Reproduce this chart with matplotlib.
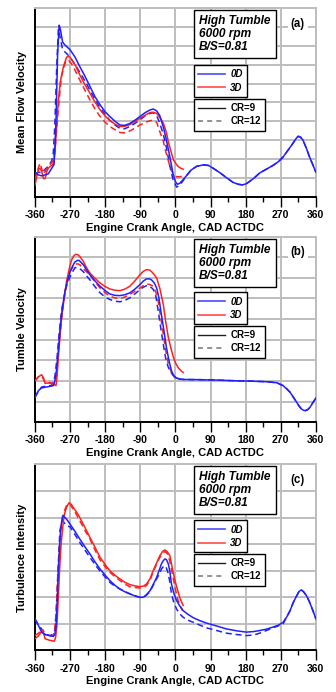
import matplotlib
matplotlib.use('Agg')
import matplotlib.pyplot as plt
from matplotlib.lines import Line2D
from matplotlib.ticker import MultipleLocator

plt.rcParams['font.family'] = ['Liberation Sans', 'DejaVu Sans']
plt.rcParams['font.weight'] = 'bold'
plt.rcParams['axes.unicode_minus'] = False

BLUE = '#2020ff'
RED = '#ff2020'
GRID = '#bdbdbd'

# ---- (a) mean flow velocity ----
mfv_0d_cr9_cad = [-360, -351, -343, -334, -326, -317, -311, -306, -302, -298, -295, -289, -283, -270,
                  -257, -245, -232, -219, -206, -193, -180, -168, -155, -142, -130, -117, -104, -91,
                  -78, -65, -57, -48, -40, -31, -23, -14, -6, 0, 5, 11, 20, 28, 40, 54, 71, 85, 97,
                  115, 131, 148, 161, 172, 182, 200, 216, 233, 250, 264, 276, 290, 302, 310, 315,
                  321, 327, 335, 344, 352, 360]
mfv_0d_cr9 = [1.3, 1.15, 1.1, 1.15, 1.2, 1.5, 1.7, 4.0, 7.5, 9.1, 8.9, 8.2, 8.05, 7.8,
              7.4, 6.9, 6.4, 5.85, 5.3, 4.87, 4.5, 4.25, 4.0, 3.8, 3.78, 3.88, 4.05, 4.25,
              4.45, 4.6, 4.65, 4.55, 4.3, 3.7, 3.0, 2.1, 1.2, 0.8, 0.65, 0.7, 0.9, 1.1, 1.4, 1.6,
              1.68, 1.65, 1.5, 1.25, 1.0, 0.75, 0.65, 0.62, 0.68, 0.95, 1.25, 1.45, 1.65, 1.85,
              2.1, 2.5, 2.85, 3.1, 3.2, 3.15, 3.0, 2.6, 2.1, 1.7, 1.3]

mfv_0d_cr12_cad = [-360, -351, -343, -334, -326, -317, -313, -309, -304, -300, -296, -289, -279, -270,
                   -257, -245, -232, -219, -206, -193, -180, -168, -155, -142, -130, -117, -104, -91,
                   -78, -65, -57, -48, -40, -31, -23, -14, -6, 3, 11, 20, 28, 40, 54, 71, 85, 97,
                   115, 131, 148, 161, 172, 182, 200, 216, 233, 250, 264, 276, 290, 302, 310, 315,
                   321, 327, 335, 344, 352, 360]
mfv_0d_cr12 = [1.2, 1.3, 1.25, 1.45, 1.6, 1.9, 2.3, 3.8, 7.0, 8.9, 8.5, 7.8, 7.6, 7.4,
               7.0, 6.6, 6.15, 5.65, 5.15, 4.72, 4.35, 4.05, 3.8, 3.62, 3.6, 3.72, 3.88, 4.07,
               4.28, 4.42, 4.45, 4.3, 3.9, 3.3, 2.6, 1.6, 0.9, 0.5, 0.6, 0.85, 1.1, 1.4, 1.6,
               1.68, 1.65, 1.5, 1.25, 1.0, 0.75, 0.65, 0.62, 0.68, 0.95, 1.25, 1.45, 1.65, 1.85,
               2.1, 2.5, 2.85, 3.1, 3.2, 3.15, 3.0, 2.6, 2.1, 1.7, 1.3]

mfv_3d_cr9_cad = [-360, -355, -351, -347, -343, -338, -334, -330, -326, -321, -317, -313, -309, -305,
                  -300, -295, -287, -279, -274, -270, -257, -245, -232, -219, -206, -193, -180, -168,
                  -155, -142, -130, -117, -104, -91, -78, -65, -57, -48, -40, -31, -23, -18, -10,
                  -5, 3, 7, 14, 20]
mfv_3d_cr9 = [0.6, 1.1, 1.45, 1.5, 1.35, 0.95, 0.95, 1.3, 1.5, 1.6, 1.65, 1.75, 2.3, 3.5,
              5.1, 6.1, 6.9, 7.4, 7.45, 7.4, 7.0, 6.46, 5.95, 5.49, 5.02, 4.6, 4.28, 4.03,
              3.85, 3.72, 3.73, 3.82, 3.98, 4.16, 4.32, 4.46, 4.48, 4.42, 4.2, 3.9, 3.4, 2.9, 2.3,
              1.95, 1.7, 1.6, 1.5, 1.45]

mfv_3d_cr12_cad = [-360, -355, -347, -343, -338, -330, -321, -313, -309, -305, -300, -292, -284, -279,
                   -272, -266, -257, -245, -232, -219, -206, -193, -180, -168, -155, -142, -130, -117,
                   -104, -91, -78, -65, -57, -48, -40, -31, -26, -18, -14, -6, -1, 10, 20]
mfv_3d_cr12 = [0.9, 1.3, 1.77, 1.5, 1.2, 1.45, 1.7, 1.9, 2.4, 3.36, 4.7, 6.37, 7.0, 7.26,
               7.2, 7.05, 6.7, 6.19, 5.65, 5.13, 4.65, 4.25, 3.95, 3.72, 3.55, 3.4, 3.38, 3.48,
               3.63, 3.8, 3.93, 4.03, 4.05, 3.95, 3.45, 2.95, 2.48, 1.9, 1.6, 1.2, 1.06, 1.05, 1.08]

# ---- (b) tumble velocity ----
tv_0d_cr9_cad = [-360, -351, -343, -326, -313, -309, -305, -300, -296, -290, -283, -276, -270, -264,
                 -258, -251, -247, -236, -228, -219, -206, -193, -180, -168, -155, -142, -130, -117,
                 -104, -91, -82, -74, -66, -61, -54, -48, -42, -36, -29, -23, -16, -10, -4, 3, 11,
                 20, 63, 106, 149, 191, 234, 260, 276, 285, 294, 302, 311, 317, 323, 329, 334, 340,
                 345, 353, 360]
tv_0d_cr9 = [1.2, 1.53, 1.66, 1.72, 1.77, 2.0, 2.49, 3.5, 4.42, 5.5, 6.35, 6.9, 7.3, 7.55,
             7.76, 7.85, 7.85, 7.64, 7.4, 7.15, 6.85, 6.59, 6.38, 6.22, 6.15, 6.14, 6.18, 6.27,
             6.45, 6.67, 6.85, 6.95, 6.95, 6.9, 6.75, 6.51, 6.0, 5.23, 4.4, 3.62, 2.95, 2.49, 2.25,
             2.14, 2.09, 2.07, 2.06, 2.04, 2.01, 1.99, 1.96, 1.91, 1.77, 1.62, 1.45, 1.22, 0.96,
             0.78, 0.64, 0.57, 0.56, 0.62, 0.72, 0.96, 1.17]

tv_0d_cr12_cad = [-360, -351, -343, -330, -317, -309, -304, -298, -292, -283, -276, -270, -262, -257,
                  -247, -236, -228, -219, -206, -193, -180, -168, -155, -142, -130, -117, -104, -91,
                  -82, -74, -66, -57, -50, -44, -37, -31, -25, -18, -11, -5, 7, 20, 63, 106, 149,
                  191, 234, 260, 276, 285, 294, 302, 311, 317, 323, 329, 334, 340, 345, 353, 360]
tv_0d_cr12 = [1.2, 1.5, 1.7, 1.75, 1.78, 2.2, 3.0, 4.3, 5.4, 6.3, 6.8, 7.05, 7.35, 7.5,
              7.48, 7.3, 7.1, 6.9, 6.57, 6.27, 6.07, 5.95, 5.87, 5.84, 5.9, 6.03, 6.22, 6.43,
              6.55, 6.62, 6.6, 6.45, 6.1, 5.39, 4.5, 3.78, 3.1, 2.65, 2.4, 2.25, 2.09, 2.07, 2.06,
              2.04, 2.01, 1.99, 1.96, 1.91, 1.77, 1.62, 1.45, 1.22, 0.96, 0.78, 0.64, 0.57, 0.56,
              0.62, 0.72, 0.96, 1.17]

tv_3d_cr9_cad = [-360, -351, -343, -338, -334, -326, -321, -313, -306, -303, -300, -296, -292, -285,
                 -279, -272, -266, -260, -255, -250, -245, -236, -228, -219, -206, -193, -180, -168,
                 -155, -142, -130, -117, -104, -91, -82, -74, -66, -61, -54, -48, -40, -31, -25,
                 -18, -11, -5, 1, 7, 14, 20]
tv_3d_cr9 = [2.0, 2.2, 2.3, 2.15, 1.88, 1.9, 1.93, 1.85, 1.77, 2.3, 3.14, 4.1, 5.06, 6.0,
             6.83, 7.45, 7.88, 8.08, 8.15, 8.12, 8.04, 7.8, 7.5, 7.23, 6.98, 6.75, 6.58, 6.46,
             6.4, 6.38, 6.45, 6.59, 6.85, 7.15, 7.32, 7.4, 7.38, 7.3, 7.15, 6.99, 6.5, 5.71, 4.9,
             4.1, 3.55, 3.14, 2.85, 2.65, 2.5, 2.41]

tv_3d_cr12_cad = [-360, -351, -343, -334, -321, -313, -306, -303, -300, -296, -290, -283, -276, -270,
                  -262, -257, -250, -245, -236, -228, -219, -206, -193, -180, -168, -155, -142, -130,
                  -117, -104, -91, -82, -74, -66, -57, -50, -44, -37, -31, -25, -18, -11, -6, 0, 10,
                  20]
tv_3d_cr12 = [2.0, 2.2, 2.25, 1.93, 1.88, 1.85, 2.0, 2.65, 3.4, 4.26, 5.3, 6.35, 6.9, 7.3,
              7.55, 7.67, 7.68, 7.64, 7.45, 7.3, 7.15, 6.8, 6.51, 6.28, 6.11, 6.03, 6.0, 6.07,
              6.19, 6.35, 6.51, 6.62, 6.7, 6.68, 6.6, 6.3, 5.87, 5.0, 4.26, 3.5, 2.81, 2.45, 2.25,
              2.15, 2.1, 2.08]

# ---- (c) turbulence intensity ----
ti_0d_cr9_cad = [-360, -355, -351, -343, -334, -321, -313, -309, -306, -303, -300, -297, -294, -291,
                 -289, -286, -283, -277, -270, -257, -245, -232, -219, -206, -193, -180, -168, -155,
                 -142, -130, -117, -100, -91, -82, -74, -65, -57, -48, -40, -36, -31, -27, -23, -18,
                 -14, -10, -4, 3, 11, 20, 30, 46, 63, 80, 106, 131, 157, 182, 200, 216, 233, 250,
                 264, 276, 285, 294, 302, 311, 317, 323, 329, 336, 343, 349, 355, 360]
ti_0d_cr9 = [1.19, 1.05, 0.94, 0.69, 0.6, 0.55, 0.53, 0.6, 0.88, 1.8, 3.0, 3.9, 4.56, 4.9,
             5.06, 5.05, 5.0, 4.9, 4.75, 4.47, 4.19, 3.9, 3.63, 3.33, 3.06, 2.83, 2.63, 2.45,
             2.31, 2.21, 2.13, 2.03, 2.0, 2.0, 2.1, 2.25, 2.48, 2.75, 3.08, 3.25, 3.38, 3.44, 3.42,
             3.25, 2.95, 2.5, 2.15, 1.88, 1.68, 1.5, 1.38, 1.23, 1.12, 1.03, 0.92, 0.81, 0.74,
             0.69, 0.71, 0.75, 0.8, 0.88, 0.95, 1.06, 1.25, 1.5, 1.8, 2.06, 2.22, 2.28, 2.2,
             2.06, 1.85, 1.63, 1.4, 1.19]

ti_0d_cr12_cad = [-360, -351, -343, -330, -321, -313, -309, -305, -302, -299, -296, -292, -289, -285,
                  -279, -270, -257, -245, -232, -219, -206, -193, -180, -168, -155, -142, -117, -91,
                  -82, -74, -65, -48, -40, -36, -31, -27, -23, -18, -14, -10, -4, 3, 11, 20, 30, 46,
                  63, 80, 106, 131, 157, 182, 200, 216, 233, 250, 264, 276, 285, 294, 302, 311, 317,
                  323, 329, 336, 343, 349, 355, 360]
ti_0d_cr12 = [1.19, 0.95, 0.81, 0.6, 0.56, 0.62, 0.75, 1.6, 2.63, 3.6, 4.5, 4.8, 4.88, 4.8,
              4.69, 4.65, 4.35, 4.06, 3.78, 3.5, 3.23, 2.98, 2.76, 2.56, 2.42, 2.31, 2.13, 2.0,
              2.0, 2.08, 2.22, 2.7, 2.9, 3.06, 3.15, 3.19, 3.1, 2.88, 2.55, 2.13, 1.8, 1.56, 1.38,
              1.25, 1.15, 1.06, 0.95, 0.85, 0.75, 0.65, 0.6, 0.56, 0.58, 0.65, 0.75, 0.85, 0.93,
              1.0, 1.25, 1.5, 1.8, 2.06, 2.22, 2.28, 2.2, 2.06, 1.85, 1.63, 1.4, 1.19]

ti_3d_cr9_cad = [-360, -351, -347, -343, -340, -337, -334, -326, -321, -310, -307, -304, -300, -297,
                 -293, -287, -283, -279, -275, -272, -266, -262, -253, -245, -232, -219, -206, -193,
                 -180, -168, -155, -142, -130, -117, -104, -91, -82, -74, -65, -57, -48, -40, -33,
                 -27, -21, -14, -8, -1, 5, 11, 16, 20]
ti_3d_cr9 = [0.44, 0.55, 0.63, 0.7, 0.78, 0.6, 0.44, 0.4, 0.38, 0.35, 0.5, 0.88, 2.0, 3.0,
             4.0, 4.88, 5.2, 5.38, 5.5, 5.56, 5.48, 5.38, 5.2, 5.0, 4.63, 4.25, 3.88, 3.5,
             3.23, 3.0, 2.83, 2.69, 2.57, 2.48, 2.43, 2.4, 2.42, 2.5, 2.7, 3.0, 3.3, 3.56, 3.72,
             3.78, 3.72, 3.56, 3.1, 2.63, 2.3, 2.0, 1.82, 1.69]

ti_3d_cr12_cad = [-360, -351, -343, -338, -330, -321, -313, -309, -306, -303, -300, -296, -292, -287,
                  -283, -279, -275, -270, -262, -257, -245, -232, -219, -206, -193, -180, -168, -155,
                  -142, -130, -117, -104, -91, -82, -74, -65, -57, -48, -40, -33, -27, -21, -18,
                  -12, -6, 0, 7, 13, 18]
ti_3d_cr12 = [0.56, 0.65, 0.78, 0.65, 0.56, 0.56, 0.56, 0.8, 1.38, 2.3, 3.25, 4.1, 4.75, 5.1,
              5.31, 5.45, 5.53, 5.5, 5.31, 5.2, 4.88, 4.52, 4.19, 3.78, 3.4, 3.15, 2.94, 2.78,
              2.63, 2.5, 2.4, 2.37, 2.35, 2.38, 2.44, 2.65, 2.95, 3.25, 3.5, 3.66, 3.72, 3.65, 3.56,
              3.2, 2.75, 2.3, 1.88, 1.65, 1.5]

x_ticks = [-360, -270, -180, -90, 0, 90, 180, 270, 360]
case_text = 'High Tumble\n6000 rpm\nB/S=0.81'


def draw_panel(ax, curves, ymax, ylabel, tag):
    for cad, val, color, dashed in curves:
        if dashed:
            ax.plot(cad, val, color=color, lw=1.1, dashes=(4, 2.5), zorder=3)
        else:
            ax.plot(cad, val, color=color, lw=1.1, zorder=3)

    ax.set_xlim(-360, 360)
    ax.set_ylim(0, ymax)
    ax.set_xticks(x_ticks)
    ax.xaxis.set_minor_locator(MultipleLocator(45))
    ax.set_yticks(range(1, ymax))
    ax.tick_params(axis='y', length=0, labelleft=False)
    ax.tick_params(axis='x', which='major', direction='out', length=7, width=1, labelsize=7.5, pad=2.5)
    ax.tick_params(axis='x', which='minor', direction='out', length=3.5, width=1)
    ax.grid(True, color=GRID, lw=1.4, zorder=0)
    ax.set_axisbelow(True)

    for side in ('left', 'bottom'):
        ax.spines[side].set_linewidth(1.4)
        ax.spines[side].set_color('black')
    for side in ('top', 'right'):
        ax.spines[side].set_linewidth(1.4)
        ax.spines[side].set_color(GRID)

    ax.set_xlabel('Engine Crank Angle, CAD ACTDC', fontsize=8, fontweight='bold', labelpad=2)
    ax.set_ylabel(ylabel, fontsize=8, fontweight='bold', labelpad=6)

    ax.text(0.585, 0.962, case_text, transform=ax.transAxes, ha='left', va='top',
            fontsize=8.6, fontweight='bold', fontstyle='italic', linespacing=1.1, zorder=5,
            bbox=dict(boxstyle='square,pad=0.42', fc='white', ec='black', lw=1.0))
    ax.text(0.936, 0.915, tag, transform=ax.transAxes, ha='center', va='center',
            fontsize=8.3, fontweight='bold', zorder=5,
            bbox=dict(boxstyle='square,pad=0.25', fc='white', ec='none'))

    model_handles = [Line2D([], [], color='#4a4aff', lw=1.2), Line2D([], [], color='#ff4a4a', lw=1.2)]
    leg1 = ax.legend(model_handles, ['0D', '3D'], loc='upper left', bbox_to_anchor=(0.566, 0.70),
                     borderaxespad=0, fancybox=False, framealpha=1, edgecolor='black',
                     handlelength=2.7, handletextpad=0.6, borderpad=0.45, labelspacing=0.35,
                     prop=dict(size=7, weight='bold', style='italic'))
    leg1.get_frame().set_linewidth(1.0)
    leg1.set_zorder(5)
    ax.add_artist(leg1)

    cr_handles = [Line2D([], [], color='#202020', lw=1.0), Line2D([], [], color='#808080', lw=1.2, dashes=(3, 2.5))]
    leg2 = ax.legend(cr_handles, ['CR=9', 'CR=12'], loc='upper left', bbox_to_anchor=(0.566, 0.52),
                     borderaxespad=0, fancybox=False, framealpha=1, edgecolor='black',
                     handlelength=2.7, handletextpad=0.6, borderpad=0.45, labelspacing=0.35,
                     prop=dict(size=7, weight='bold'))
    leg2.get_frame().set_linewidth(1.0)
    leg2.set_zorder(5)


fig = plt.figure(figsize=(3.36, 6.92), dpi=100)
ax_a = fig.add_axes([0.104, 0.716, 0.836, 0.272])
ax_b = fig.add_axes([0.104, 0.390, 0.836, 0.268])
ax_c = fig.add_axes([0.104, 0.060, 0.836, 0.269])

draw_panel(ax_a, [(mfv_0d_cr12_cad, mfv_0d_cr12, BLUE, True),
                  (mfv_3d_cr12_cad, mfv_3d_cr12, RED, True),
                  (mfv_3d_cr9_cad, mfv_3d_cr9, RED, False),
                  (mfv_0d_cr9_cad, mfv_0d_cr9, BLUE, False)],
           10, 'Mean Flow Velocity', '(a)')
draw_panel(ax_b, [(tv_0d_cr12_cad, tv_0d_cr12, BLUE, True),
                  (tv_3d_cr12_cad, tv_3d_cr12, RED, True),
                  (tv_3d_cr9_cad, tv_3d_cr9, RED, False),
                  (tv_0d_cr9_cad, tv_0d_cr9, BLUE, False)],
           9, 'Tumble Velocity', '(b)')
draw_panel(ax_c, [(ti_0d_cr12_cad, ti_0d_cr12, BLUE, True),
                  (ti_3d_cr12_cad, ti_3d_cr12, RED, True),
                  (ti_3d_cr9_cad, ti_3d_cr9, RED, False),
                  (ti_0d_cr9_cad, ti_0d_cr9, BLUE, False)],
           7, 'Turbulence Intensity', '(c)')

fig.savefig('out.png', dpi=100)
